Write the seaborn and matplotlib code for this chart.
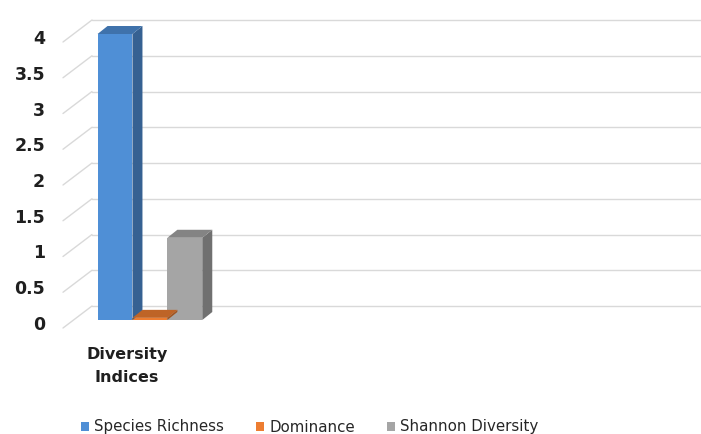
import matplotlib
matplotlib.use("Agg")
import matplotlib.pyplot as plt
import seaborn as sns
import pandas as pd
import numpy as np
import matplotlib.transforms as mtransforms
import matplotlib.colors as mcolors
from matplotlib.patches import Polygon, Patch
from matplotlib.lines import Line2D

# ---------------- data ----------------
categories = ["Diversity\nIndices"]
series = ["Species Richness", "Dominance", "Shannon Diversity"]
values = [4.0, 0.03, 1.15]
y_ticks = [0, 0.5, 1, 1.5, 2, 2.5, 3, 3.5, 4]
y_tick_labels = ["0", "0.5", "1", "1.5", "2", "2.5", "3", "3.5", "4"]
colors = ["#4f8fd6", "#ed7d31", "#a5a5a5"]

df = pd.DataFrame({"category": categories * len(series),
                   "series": series,
                   "value": values})

sns.set_theme(style="white")
plt.rcParams["font.family"] = ["DejaVu Sans"]

W, H, DPI = 701, 434, 100
fig = plt.figure(figsize=(W / DPI, H / DPI), dpi=DPI)
fig.patch.set_facecolor("white")

# axes = front plane of the bars (pixel geometry)
ax = fig.add_axes([74 / W, (H - 320) / H, (680 - 74) / W, (320 - 34) / H])
ax.set_zorder(1)
sns.barplot(data=df, x="category", y="value", hue="series",
            hue_order=series, palette=colors, width=0.8, saturation=1,
            ax=ax, legend=False, linewidth=0, edgecolor="none", zorder=3)
ax.set_xlim(-0.58, 4.05)
ax.set_ylim(0, 4)
for s in ax.spines.values():
    s.set_visible(False)
ax.set_facecolor("none")
ax.patch.set_visible(False)
ax.set_xlabel("")
ax.set_ylabel("")
ax.set_yticks(y_ticks)
ax.set_yticklabels([])
ax.tick_params(left=False, bottom=False, labelbottom=False)
ax.grid(False)

ident = mtransforms.IdentityTransform()
txt_color = "#1f1f1f"
grid_color = "#d9d9d9"

# back wall gridlines + floor diagonals, derived from the y scale
BACK_UP, FRONT_DOWN = 14, 8
X_FRONT, X_BACK = 63, 92
for v, lab in zip(y_ticks, y_tick_labels):
    yb = ax.transData.transform((0, v))[1]
    fig.add_artist(Line2D([X_BACK, W], [yb + BACK_UP, yb + BACK_UP],
                          transform=ident, color=grid_color, lw=1.0, zorder=0))
    fig.add_artist(Line2D([X_FRONT, X_BACK], [yb - FRONT_DOWN, yb + BACK_UP],
                          transform=ident, color=grid_color, lw=1.0, zorder=0))
    fig.text(45 / W, (yb - 5) / H, lab, ha="right", va="center",
             fontsize=12.5, fontweight="bold", color=txt_color)

# pseudo-3D side and top faces of each bar
DX, DY = 10, 8
for patch, c in zip(ax.patches, colors):
    x0, y0 = patch.get_xy()
    w, h = patch.get_width(), patch.get_height()
    tl = ax.transData.transform((x0, y0 + h))
    tr = ax.transData.transform((x0 + w, y0 + h))
    br = ax.transData.transform((x0 + w, y0))
    rgb = np.array(mcolors.to_rgb(c))
    side = Polygon([br, tr, tr + [DX, DY], br + [DX, DY]], closed=True,
                   transform=ident, facecolor=rgb * 0.68, edgecolor="none", zorder=2)
    top = Polygon([tl, tr, tr + [DX, DY], tl + [DX, DY]], closed=True,
                  transform=ident, facecolor=rgb * 0.8, edgecolor="none", zorder=2)
    fig.add_artist(side)
    fig.add_artist(top)

# category label
cx = ax.transData.transform((0, 0))[0] - 23
fig.text(cx / W, 1 - 366 / H, categories[0], ha="center", va="center",
         fontsize=11.5, fontweight="bold", color=txt_color, linespacing=1.75)

# legend
handles = [Patch(facecolor=c, edgecolor="none") for c in colors]
leg = fig.legend(handles, series, loc="center left",
                 bbox_to_anchor=(81 / W, 1 - 427 / H), ncol=3, frameon=False,
                 fontsize=10.8, handlelength=0.55, handleheight=0.55,
                 handletextpad=0.35, columnspacing=2.1, borderpad=0,
                 borderaxespad=0)
for t in leg.get_texts():
    t.set_color("#262626")

fig.savefig("out.png", dpi=DPI, facecolor="white")
